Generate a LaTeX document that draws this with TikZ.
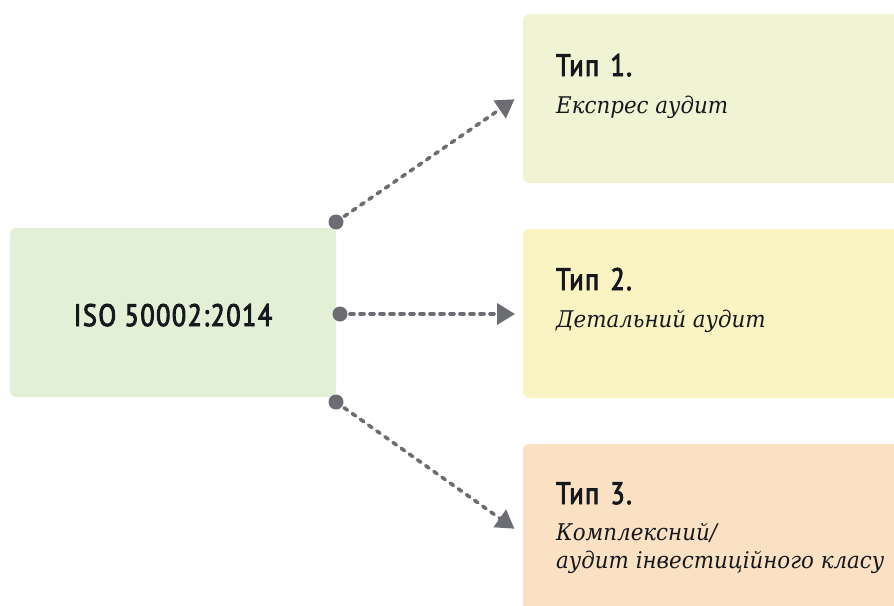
\documentclass[tikz,border=0pt]{standalone}
\usepackage{fontspec}
\usetikzlibrary{arrows.meta}
\newfontfamily\headfont[FakeStretch=0.84,FakeBold=3,LetterSpace=5]{PT Sans}
\newfontfamily\itfont[FakeStretch=0.93]{DejaVu Serif}
\definecolor{boxgreen}{HTML}{E2F0D6}
\definecolor{boxlime}{HTML}{F0F4D4}
\definecolor{boxyellow}{HTML}{FAF3C2}
\definecolor{boxpeach}{HTML}{FBE1C4}
\definecolor{linegray}{HTML}{6B6D72}
\definecolor{textdark}{HTML}{15181C}
\tikzset{
  headtxt/.style={anchor=base west, inner sep=0pt, text=textdark, font=\headfont\fontsize{31}{36}\selectfont},
  subtxt/.style={anchor=base west, inner sep=0pt, text=textdark, align=left, font=\itfont\itshape\fontsize{23}{28}\selectfont},
  dotnode/.style={circle, fill=linegray, minimum size=15pt, inner sep=0pt},
  link/.style={draw=linegray, line width=3.6pt, line cap=round, dash pattern=on 4pt off 6pt, -{Triangle[length=18pt,width=21pt,line cap=butt]}, shorten >=-3pt},
}
\begin{document}
\begin{tikzpicture}[x=1pt,y=-1pt]
\useasboundingbox (0,0) rectangle (894,605);
% boxes
\fill[boxgreen, rounded corners=6pt] (10,228) rectangle (336,397);
\node[headtxt, anchor=base] (iso) at (173,326) {ISO 50002:2014};
\fill[boxlime, rounded corners=6pt] (523,14) rectangle (910,183);
\fill[boxyellow, rounded corners=6pt] (523,229) rectangle (910,398);
\fill[boxpeach, rounded corners=6pt] (523,444) rectangle (910,620);
% texts
\node[headtxt] (h1) at (556,76) {Тип\hspace{3pt} 1.};
\node[subtxt] (s1) at (556,113) {Експрес аудит};
\node[headtxt] (h2) at (556,290) {Тип\hspace{3pt} 2.};
\node[subtxt] (s2) at (556,327) {Детальний аудит};
\node[headtxt] (h3) at (556,504) {Тип\hspace{3pt} 3.};
\node[subtxt] (s3) at (556,540) {Комплексний/};
\node[subtxt] (s3b) at (556,568) {аудит інвестиційного класу};
% connectors
\node[dotnode] (d1) at (336,222) {};
\node[dotnode] (d2) at (340,314) {};
\node[dotnode] (d3) at (336,402) {};
\coordinate (t1) at (512,101);
\coordinate (t2) at (512,314);
\coordinate (t3) at (512,527);
\draw[link] (d1.center) -- (t1);
\draw[link] (d2.center) -- (t2);
\draw[link] (d3.center) -- (t3);
\end{tikzpicture}
\end{document}
